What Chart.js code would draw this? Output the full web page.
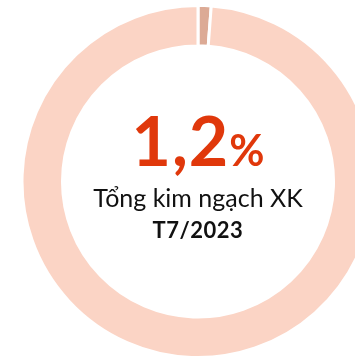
<!DOCTYPE html>
<html>
<head>
<meta charset="utf-8">
<script src="https://cdn.jsdelivr.net/npm/chart.js@4"></script>
<style>
  html, body { margin: 0; padding: 0; width: 355px; height: 358px; overflow: hidden; background: #fff; }
  #wrap { position: absolute; left: 0; top: 4px; width: 396px; height: 355px; }
  .lbl { position: absolute; left: 0; width: 396px; text-align: center; font-family: Lato, sans-serif; line-height: 1; white-space: nowrap; }
  #big { top: 106px; color: #E0380B; font-weight: 700; font-size: 68px; letter-spacing: 1px; }
  #big .pct { font-size: 43px; letter-spacing: 0; }
  #sub { top: 185px; color: #111; font-size: 25px; }
  #period { top: 219px; color: #111; font-weight: 700; font-size: 22px; letter-spacing: 0.5px; }
</style>
</head>
<body>
<div id="wrap"><canvas id="c"></canvas></div>
<div class="lbl" id="big"></div>
<div class="lbl" id="sub"></div>
<div class="lbl" id="period"></div>
<script>
// Share of total export turnover, July 2023
const categories = ['Tỷ trọng', 'Còn lại'];
const shareValues = [1.2, 98.8];
const subtitle = 'Tổng kim ngạch XK';
const period = 'T7/2023';

const sliceColors = ['#DCAA95', '#FBD4C5'];

const share = shareValues[0];
const big = document.getElementById('big');
big.innerHTML = '';
big.appendChild(document.createTextNode(share.toFixed(1).replace('.', ',')));
const pct = document.createElement('span');
pct.className = 'pct';
pct.textContent = '%';
big.appendChild(pct);
document.getElementById('sub').textContent = subtitle;
document.getElementById('period').textContent = period;

new Chart(document.getElementById('c'), {
  type: 'doughnut',
  data: {
    labels: categories,
    datasets: [{
      data: shareValues,
      backgroundColor: sliceColors,
      borderColor: '#ffffff',
      borderWidth: 3,
      hoverOffset: 0
    }]
  },
  options: {
    responsive: true,
    maintainAspectRatio: false,
    animation: false,
    cutout: '77%',
    rotation: 0,
    layout: { padding: 0 },
    plugins: { legend: { display: false }, tooltip: { enabled: false } }
  }
});
</script>
</body>
</html>
